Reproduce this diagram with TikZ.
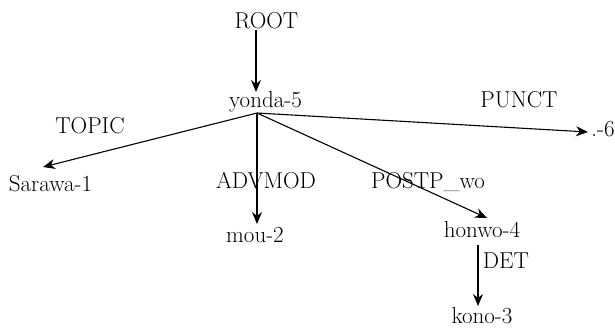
\documentclass[tikz,border=0pt]{standalone}
\usetikzlibrary{arrows.meta}
\begin{document}
\begin{tikzpicture}[x=1pt,y=-1pt,
  lbl/.style={anchor=base,inner sep=0pt,font=\fontsize{23}{26}\selectfont},
  arr/.style={line width=1.1pt,-{Stealth[length=12pt,width=10pt]}}]
\useasboundingbox (0,0) rectangle (615,330);
% nodes
\node[lbl] (root) at (266.5,28) {ROOT};
\node[lbl] (yonda) at (265.5,107) {yonda-5};
\node[lbl] (sar) at (50.5,191) {Sarawa-1};
\node[lbl] (mou) at (255,242) {mou-2};
\node[lbl] (honwo) at (482,237) {honwo-4};
\node[lbl] (kono) at (482,323) {kono-3};
\node[lbl] (pt) at (603,136) {.-6};
% edge labels
\node[lbl] (ltopic) at (90,133) {TOPIC};
\node[lbl] (lpunct) at (519,107) {PUNCT};
\node[lbl] (ladv) at (266,188) {ADVMOD};
\node[lbl] (lpostp) at (428,188) {POSTP\_wo};
\node[lbl] (ldet) at (506,268) {DET};
% connector points
\coordinate (rootS) at (256,30);
\coordinate (yondaN) at (256,92);
\coordinate (b) at (257,113);
\coordinate (sarT) at (43,167);
\coordinate (mouT) at (257,224);
\coordinate (honT) at (487,218);
\coordinate (ptT) at (588,132);
\coordinate (honS) at (478,245);
\coordinate (konoT) at (478,306);
% connectors
\draw[arr] (rootS) -- (yondaN);
\draw[arr] (b) -- (sarT);
\draw[arr] (b) -- (mouT);
\draw[arr] (b) -- (honT);
\draw[arr] (b) -- (ptT);
\draw[arr] (honS) -- (konoT);
\end{tikzpicture}
\end{document}
